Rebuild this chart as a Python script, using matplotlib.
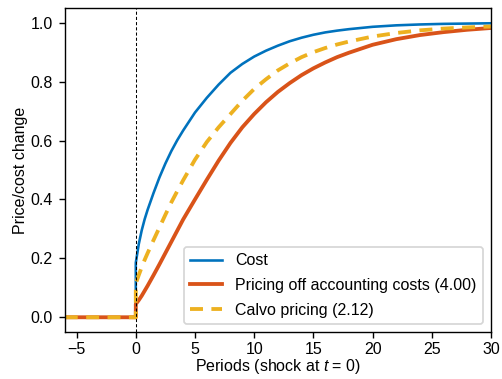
import matplotlib
matplotlib.use('Agg')
import matplotlib.pyplot as plt

# periods before the shock (everything flat at zero)
t_pre = [-6, -5, -4, -3, -2, -1, 0]
pre_vals = [0, 0, 0, 0, 0, 0, 0]

# periods after the shock
t_post = [0, 0.25, 0.5, 0.75, 1, 1.5, 2, 2.5, 3, 3.5, 4, 5, 6, 7, 8, 9, 10,
          11, 12, 13, 14, 15, 16, 17, 18, 20, 22, 24, 26, 28, 30]
cost = [0.185, 0.248, 0.295, 0.333, 0.365, 0.422, 0.475, 0.522, 0.564,
        0.601, 0.634, 0.695, 0.745, 0.79, 0.83, 0.86, 0.885, 0.905, 0.922,
        0.937, 0.949, 0.959, 0.967, 0.973, 0.978, 0.986, 0.991, 0.994,
        0.996, 0.997, 0.998]
accounting = [0.045, 0.058, 0.073, 0.09, 0.107, 0.143, 0.18, 0.218, 0.256,
              0.294, 0.332, 0.40, 0.467, 0.532, 0.592, 0.645, 0.69, 0.73,
              0.765, 0.795, 0.822, 0.845, 0.865, 0.883, 0.898, 0.925,
              0.944, 0.958, 0.968, 0.976, 0.982]
calvo = [0.115, 0.143, 0.17, 0.195, 0.218, 0.262, 0.305, 0.348, 0.39, 0.428,
         0.465, 0.535, 0.595, 0.645, 0.69, 0.735, 0.775, 0.808, 0.838,
         0.862, 0.883, 0.90, 0.914, 0.926, 0.936, 0.953, 0.965, 0.974,
         0.98, 0.984, 0.987]

lags = {'accounting': 4.00, 'calvo': 2.12}

blue = '#0072BD'
red = '#D95319'
yellow = '#EDB120'

plt.rcParams['font.family'] = ['Liberation Sans', 'DejaVu Sans']
plt.rcParams['font.size'] = 9.25
plt.rcParams['mathtext.fontset'] = 'custom'
plt.rcParams['mathtext.it'] = 'Liberation Sans:italic'
plt.rcParams['mathtext.rm'] = 'Liberation Sans'

fig = plt.figure(figsize=(4.016, 3.032), dpi=125)
ax = fig.add_axes([0.129, 0.124, 0.849, 0.855])

# full paths: zero before the shock, jump at t = 0
tc = t_pre + t_post
ax.plot(tc, pre_vals + cost, color=blue, lw=1.5, label='Cost')
ax.plot(tc, pre_vals + accounting, color=red, lw=2.2,
        label='Pricing off accounting costs (%.2f)' % lags['accounting'])
ax.plot(tc, pre_vals + calvo, color=yellow, lw=2.2, ls=(0, (3.4, 2.2)),
        label='Calvo pricing (%.2f)' % lags['calvo'])

ax.axvline(0, color='black', lw=0.6, ls=(0, (3, 2)))

ax.set_xlim(-6, 30)
ax.set_ylim(-0.05, 1.05)
ax.set_xticks([-5, 0, 5, 10, 15, 20, 25, 30])
ax.set_yticks([0.0, 0.2, 0.4, 0.6, 0.8, 1.0])
ax.tick_params(axis='x', pad=2.5)
ax.set_xlabel('Periods (shock at $t$ = 0)', labelpad=0)
ax.set_ylabel('Price/cost change', labelpad=1.5)
ax.legend(loc='lower right', labelspacing=0.6)

fig.savefig('out.png', dpi=125)
